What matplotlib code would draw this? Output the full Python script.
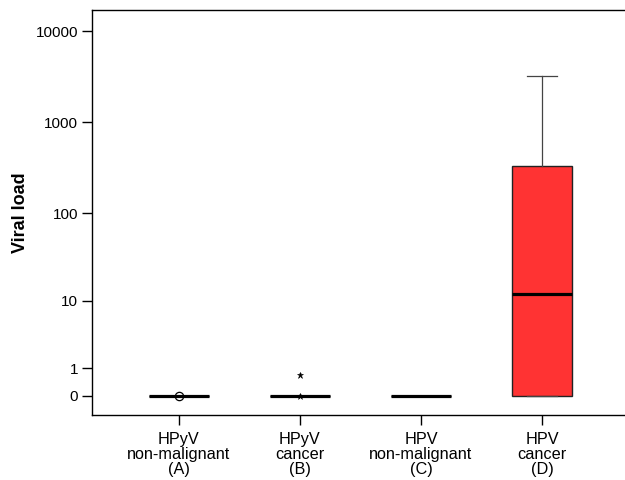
import numpy as np
import matplotlib
matplotlib.use('Agg')
import matplotlib.pyplot as plt

plt.rcParams['font.family'] = ['Liberation Sans', 'DejaVu Sans']

# data
groups = ['HPyV\nnon-malignant\n(A)', 'HPyV\ncancer\n(B)', 'HPV\nnon-malignant\n(C)', 'HPV\ncancer\n(D)']
whislo = [0, 0, 0, 0]
q1 = [0, 0, 0, 0]
med = [0, 0, 0, 12]
q3 = [0, 0, 0, 330]
whishi = [0, 0, 0, 3200]
fliers = [[0], [0, 0.7], [], []]
flier_marker = ['o', '*', 'o', 'o']
box_colors = ['white', 'white', 'white', '#ff3333']

yticks = [0, 1, 10, 100, 1000, 10000]

fig = plt.figure(figsize=(6.25, 4.8), dpi=100)
ax = fig.add_axes([0.1472, 0.1354, 0.8528, 0.8438])

ax.set_yscale('function', functions=(lambda v: np.log10(1 + v), lambda v: 10**v - 1))

for i in range(4):
    stats = [dict(whislo=whislo[i], q1=q1[i], med=med[i], q3=q3[i], whishi=whishi[i], fliers=fliers[i])]
    ax.bxp(stats, positions=[i + 1], widths=0.5, patch_artist=True,
           boxprops=dict(facecolor=box_colors[i], edgecolor='#222222', linewidth=1),
           medianprops=dict(color='black', linewidth=2.3, solid_capstyle='butt'),
           whiskerprops=dict(color='#444444', linewidth=0.9),
           capprops=dict(color='#444444', linewidth=0.9),
           capwidths=0.25,
           flierprops=dict(marker=flier_marker[i], markerfacecolor='white' if flier_marker[i] == 'o' else 'black',
                           markeredgecolor='black', markersize=6 if flier_marker[i] == 'o' else 5,
                           markeredgewidth=0.9 if flier_marker[i] == 'o' else 0.4))

ax.set_xlim(0.281, 4.686)
ax.set_ylim(-0.389, 17219)
ax.set_yticks(yticks)
ax.set_yticklabels([str(t) for t in yticks])
ax.yaxis.set_minor_locator(matplotlib.ticker.NullLocator())
ax.set_xticks([1, 2, 3, 4])
ax.set_xticklabels(groups, linespacing=1.0)

ax.tick_params(axis='y', length=7, width=1, pad=3, labelsize=11)
ax.tick_params(axis='x', length=7, width=1, pad=5, labelsize=11.7)
ax.spines['right'].set_visible(False)
for s in ['left', 'bottom', 'top']:
    ax.spines[s].set_linewidth(1)

ax.set_ylabel('Viral load', fontsize=13, fontweight='bold', labelpad=5)

fig.savefig('out.png', dpi=100)
